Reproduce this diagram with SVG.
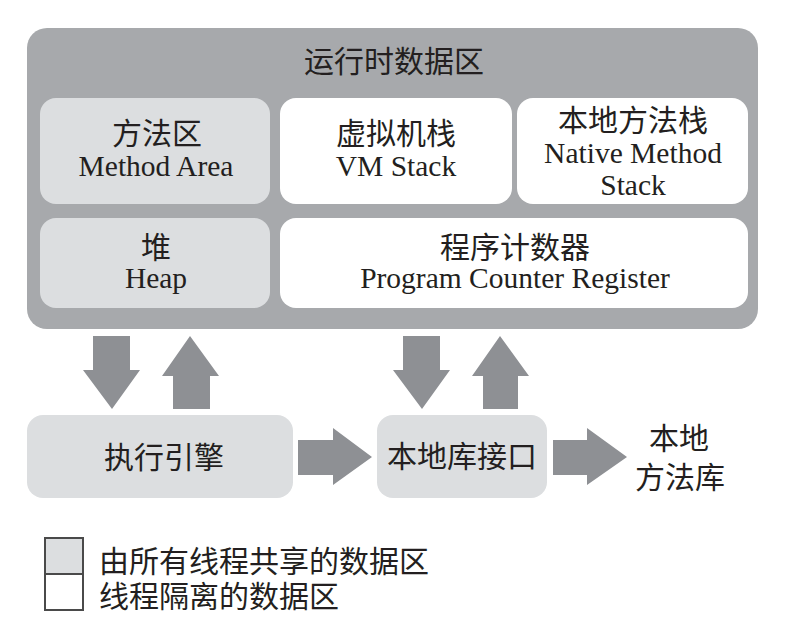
<svg xmlns="http://www.w3.org/2000/svg" width="801" height="631" viewBox="0 0 801 631">
<style>
.t{font-family:"Liberation Serif","Noto Sans CJK SC",serif;fill:#231f20;text-anchor:middle}
.cn{font-size:30px}
.en{font-size:29.5px}
.shared{fill:#dcdee0}
.private{fill:#ffffff}
.arrow{fill:#8e9094}
.lg{stroke:#4a4a4a;stroke-width:2}
</style>
<rect width="801" height="631" fill="#ffffff"/>
<g id="runtime-data-area">
<rect x="27" y="28" width="731" height="301" rx="20" fill="#a7a9ac"/>
<text class="t cn" x="394" y="72">运行时数据区</text>
</g>
<g id="method-area">
<rect class="shared" x="40" y="98" width="230" height="106" rx="16"/>
<text class="t cn" x="157" y="144">方法区</text>
<text class="t en" x="156" y="176">Method Area</text>
</g>
<g id="vm-stack">
<rect class="private" x="280" y="98" width="232" height="106" rx="16"/>
<text class="t cn" x="396" y="144">虚拟机栈</text>
<text class="t en" x="396" y="176">VM Stack</text>
</g>
<g id="native-method-stack">
<rect class="private" x="517" y="98" width="231" height="106" rx="16"/>
<text class="t cn" x="633" y="131">本地方法栈</text>
<text class="t en" x="633" y="163">Native Method</text>
<text class="t en" x="633" y="195">Stack</text>
</g>
<g id="heap">
<rect class="shared" x="40" y="218" width="230" height="90" rx="16"/>
<text class="t cn" x="156" y="258">堆</text>
<text class="t en" x="156" y="288">Heap</text>
</g>
<g id="program-counter-register">
<rect class="private" x="280" y="218" width="468" height="90" rx="16"/>
<text class="t cn" x="515" y="258">程序计数器</text>
<text class="t en" x="515" y="288">Program Counter Register</text>
</g>
<g id="execution-engine">
<rect class="shared" x="27" y="415" width="266" height="83" rx="16"/>
<text class="t cn" x="164" y="468">执行引擎</text>
</g>
<g id="native-interface">
<rect class="shared" x="377" y="415" width="170" height="83" rx="16"/>
<text class="t cn" x="462" y="467">本地库接口</text>
</g>
<g id="native-method-library">
<text class="t cn" x="679" y="449">本地</text>
<text class="t cn" x="680" y="488">方法库</text>
</g>
<g id="connectors">
<polygon class="arrow" points="93,336 130,336 130,370 140,370 112,409 83,370 93,370"/>
<polygon class="arrow" points="190,336 219,376 210,376 210,409 173,409 173,376 162,376"/>
<polygon class="arrow" points="298,440 333,440 333,428 372,457 333,485 333,475 298,475"/>
<polygon class="arrow" points="403,336 440,336 440,370 450,370 422,409 393,370 403,370"/>
<polygon class="arrow" points="500,336 529,376 518,376 518,409 483,409 483,376 472,376"/>
<polygon class="arrow" points="553,440 587,440 587,428 627,457 587,485 587,475 553,475"/>
</g>
<g id="legend">
<rect class="shared lg" x="45" y="538" width="38" height="36"/>
<rect class="private lg" x="45" y="574" width="38" height="36"/>
<text class="t cn" x="99" y="572" style="text-anchor:start">由所有线程共享的数据区</text>
<text class="t cn" x="99" y="607" style="text-anchor:start">线程隔离的数据区</text>
</g>
</svg>
